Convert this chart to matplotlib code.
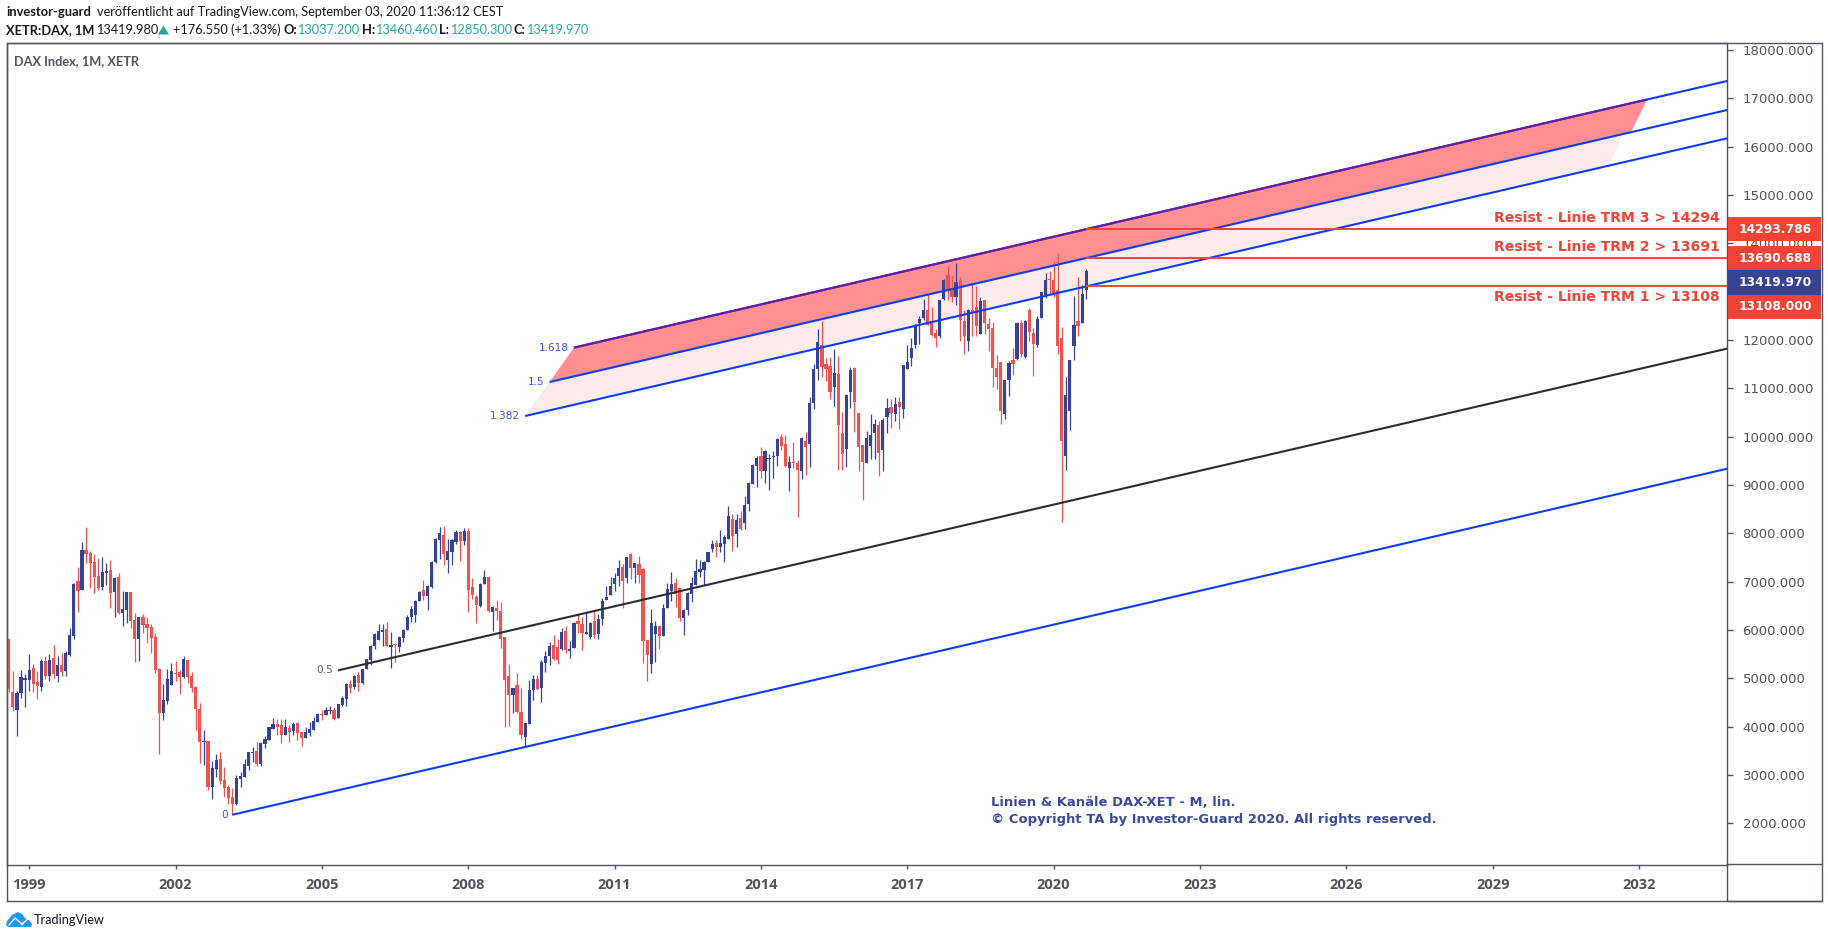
import matplotlib
matplotlib.use('Agg')
import matplotlib.pyplot as plt
from matplotlib.patches import Polygon, Rectangle, Circle

# Monthly DAX candles, Aug 1998 to Sep 2020
opens = [
    5814, 4717, 4345, 4696, 4965, 4965, 5214, 4924, 4821, 5359, 5048, 5421,
    5048, 5276, 5152, 5483, 5876, 7014, 6828, 7655, 7593, 7407, 7117, 6890,
    7179, 7241, 6786, 7097, 6352, 6414, 6786, 6207, 5814, 6269, 6124, 6062,
    5855, 5193, 4283, 4531, 4862, 5110, 5131, 5028, 5379, 5048, 4821, 4365,
    3675, 3703, 2751, 3124, 3330, 2896, 2751, 2544, 2399, 2917, 2958, 3186,
    3455, 3496, 3227, 3641, 3724, 3951, 4055, 4034, 3827, 3972, 3910, 4075,
    3890, 3765, 3869, 3931, 4096, 4262, 4241, 4324, 4345, 4179, 4448, 4572,
    4883, 4821, 5069, 4903, 5193, 5379, 5669, 5793, 5959, 6021, 5648, 5710,
    5648, 5834, 6000, 6269, 6310, 6600, 6828, 6703, 6890, 7407, 7862, 7966,
    7448, 7614, 7821, 8028, 7842, 8048, 6890, 6683, 6497, 6952, 7097, 6372,
    6455, 6393, 5855, 5048, 4655, 4862, 4304, 3786, 4055, 4759, 4986, 4800,
    5317, 5462, 5690, 5648, 5607, 5979, 5566, 5628, 6186, 6124, 5917, 5855,
    6186, 5916, 6227, 6620, 6724, 6951, 7117, 7303, 7075, 7572, 7282, 7365,
    7261, 5792, 5296, 5917, 6082, 5875, 6454, 6806, 6972, 6868, 6248, 6413,
    6744, 6930, 7199, 7241, 7406, 7675, 7799, 7716, 7779, 7882, 8296, 7986,
    8317, 8213, 8606, 9020, 9393, 9600, 9289, 9537, 9579, 9600, 9993, 9848,
    9351, 9475, 9455, 9289, 9910, 9848, 10696, 11400, 11896, 11503, 11462, 11027,
    11296, 10076, 9744, 10924, 11420, 10489, 9827, 9455, 9807, 10076, 10241, 9724,
    10407, 10614, 10469, 10717, 10572, 11400, 11627, 11896, 12351, 12455, 12620, 12393,
    12145, 12083, 12848, 13345, 13055, 12889, 13241, 12393, 11979, 12620, 12683, 12124,
    12827, 12331, 12248, 11420, 11545, 10469, 11172, 11586, 11607, 12352, 11648, 12620,
    12145, 11896, 12455, 12889, 13262, 13241, 13034, 12041, 9600, 10531, 11876, 12393,
    12352, 13037.2,
]
highs = [
    5814, 5152, 4745, 5172, 5090, 5503, 5296, 5152, 5400, 5462, 5503, 5690,
    5462, 5524, 5566, 6041, 6972, 7303, 7821, 8131, 7635, 7573, 7490, 7510,
    7386, 7448, 7097, 7179, 6807, 6786, 6786, 6352, 6269, 6331, 6269, 6124,
    5938, 5214, 4883, 5193, 5317, 5359, 5172, 5462, 5379, 5131, 4841, 4489,
    3930, 3703, 3289, 3434, 3475, 3165, 2793, 2730, 3000, 3061, 3330, 3475,
    3579, 3682, 3682, 3806, 4000, 4179, 4158, 4158, 4158, 4034, 4096, 4096,
    3890, 3993, 4096, 4200, 4283, 4345, 4407, 4428, 4407, 4469, 4635, 4903,
    4965, 5069, 5131, 5193, 5400, 5690, 5938, 6124, 6124, 6166, 5959, 5731,
    5876, 6021, 6310, 6497, 6621, 6807, 7035, 6931, 7428, 7904, 8131, 8152,
    7883, 7883, 8069, 8048, 8110, 8110, 7076, 6724, 6972, 7241, 7097, 6497,
    6621, 6579, 5855, 5296, 4800, 5110, 4800, 4076, 4965, 5069, 5069, 5379,
    5566, 5752, 5897, 5814, 6041, 6083, 5772, 6166, 6331, 6269, 6352, 6166,
    6393, 6331, 6661, 6910, 7096, 7179, 7448, 7365, 7510, 7593, 7386, 7530,
    7282, 5792, 6434, 6186, 6082, 6537, 6972, 7199, 7075, 6868, 6434, 6785,
    7096, 7468, 7448, 7427, 7613, 7861, 7861, 8068, 7965, 8565, 8399, 8399,
    8461, 8772, 9062, 9434, 9600, 9786, 9724, 9641, 9703, 9972, 10055, 10034,
    9600, 9889, 9517, 9993, 10096, 10820, 11503, 12227, 12393, 11627, 11648, 11814,
    11669, 10510, 10882, 11441, 11441, 10489, 9827, 10117, 10469, 10365, 10324, 10386,
    10800, 10779, 10820, 10820, 11482, 11896, 12041, 12331, 12496, 12848, 12951, 12683,
    12227, 12827, 13262, 13531, 13345, 13593, 13303, 12620, 12641, 13200, 13117, 12889,
    12827, 12455, 12372, 11689, 11545, 11172, 11565, 11834, 12372, 12414, 12414, 12662,
    12248, 12496, 12993, 13386, 13427, 13634, 13800, 12269, 11234, 11586, 12910, 13303,
    13138, 13460.46,
]
lows = [
    4724, 4331, 3807, 4600, 4407, 4738, 4717, 4572, 4738, 4986, 4945, 5007,
    4924, 5048, 5048, 5462, 5814, 6372, 6828, 7386, 6869, 6766, 6828, 6828,
    6931, 6455, 6269, 6331, 6083, 6145, 6041, 5338, 5359, 5938, 5731, 5524,
    5110, 3434, 4138, 4469, 4862, 4945, 4676, 5007, 4903, 4717, 3931, 3248,
    3206, 2689, 2503, 2958, 2813, 2544, 2399, 2179, 2379, 2751, 2958, 3103,
    3268, 3186, 3186, 3558, 3724, 3951, 3827, 3661, 3827, 3682, 3827, 3724,
    3600, 3765, 3807, 3931, 4096, 4138, 4241, 4262, 4138, 4179, 4428, 4428,
    4696, 4779, 4738, 4883, 5193, 5276, 5607, 5793, 5669, 5669, 5214, 5338,
    5545, 5752, 6000, 6165, 6165, 6600, 6621, 6414, 6869, 7386, 7469, 7345,
    7179, 7345, 7779, 7428, 7759, 6372, 6641, 6145, 6476, 6952, 6372, 5979,
    6207, 5628, 3993, 4014, 4283, 4283, 3745, 3586, 4055, 4552, 4759, 4510,
    5131, 5276, 5379, 5296, 5586, 5524, 5421, 5628, 5938, 5586, 5917, 5814,
    5834, 5813, 6103, 6620, 6724, 6806, 6910, 6455, 6972, 7055, 6972, 6972,
    5316, 4944, 5110, 5337, 5606, 5875, 6454, 6599, 6475, 6186, 5896, 6310,
    6579, 6930, 7096, 6930, 7406, 7613, 7510, 7613, 7406, 7882, 7634, 7717,
    8068, 8089, 8461, 9020, 8958, 9144, 9041, 8896, 9144, 9393, 9724, 9372,
    8875, 9351, 8337, 9124, 9206, 9372, 10572, 11172, 11234, 11152, 10779, 10634,
    9310, 9310, 9372, 10593, 10096, 9289, 8689, 9455, 9538, 9538, 9186, 9289,
    10076, 10179, 10324, 10158, 10386, 11400, 11462, 11834, 11917, 12414, 12310, 12083,
    11855, 12041, 12827, 12827, 12786, 12724, 11979, 11710, 11772, 12083, 12083, 12124,
    12124, 11772, 11027, 10986, 10262, 10365, 10841, 11276, 11586, 11648, 11627, 11979,
    11255, 11855, 12455, 12869, 12931, 12889, 11710, 8234, 9310, 10138, 11586, 12083,
    12352, 12850.3,
]
closes = [
    4779, 4407, 4703, 5028, 5007, 5172, 4883, 4841, 5359, 5048, 5379, 5090,
    5276, 5131, 5524, 5897, 6952, 6807, 7655, 7573, 7386, 7097, 6869, 7200,
    7221, 6766, 7076, 6352, 6434, 6786, 6186, 5814, 6269, 6103, 6041, 5834,
    5172, 4283, 4552, 4986, 5152, 5090, 5028, 5400, 5028, 4800, 4365, 3682,
    3696, 2751, 3144, 3310, 2875, 2730, 2524, 2399, 2937, 2979, 3227, 3475,
    3475, 3227, 3662, 3744, 3986, 4055, 3993, 3827, 3993, 3889, 4055, 3868,
    3765, 3890, 3951, 4117, 4262, 4241, 4345, 4345, 4159, 4469, 4593, 4883,
    4800, 5048, 4903, 5193, 5400, 5669, 5917, 5979, 6000, 5669, 5690, 5690,
    5855, 6000, 6269, 6434, 6600, 6786, 6703, 6910, 7407, 7883, 8007, 7573,
    7635, 7862, 8028, 7842, 8048, 6828, 6724, 6517, 6952, 7097, 6393, 6476,
    6393, 5814, 4965, 4655, 4800, 4304, 3827, 4076, 4759, 4986, 4779, 5338,
    5462, 5669, 5400, 5379, 5958, 5586, 5607, 6145, 6124, 5938, 5959, 6145,
    5897, 6227, 6599, 6682, 6910, 7075, 7282, 7013, 7510, 7282, 7386, 7137,
    5772, 5482, 6144, 6082, 5875, 6454, 6848, 6951, 6744, 6248, 6413, 6765,
    6972, 7220, 7261, 7406, 7613, 7779, 7716, 7799, 7923, 8358, 7944, 8275,
    8089, 8586, 9041, 9413, 9558, 9289, 9703, 9558, 9600, 9951, 9806, 9392,
    9475, 9455, 9310, 9972, 9786, 10696, 11400, 11958, 11441, 11400, 10924, 11317,
    10241, 9641, 10862, 11379, 10717, 9786, 9475, 9972, 10034, 10262, 9662, 10345,
    10593, 10489, 10676, 10614, 11482, 11545, 11834, 12310, 12434, 12620, 12310, 12103,
    12041, 12827, 13241, 13014, 12889, 13200, 12414, 12083, 12620, 12579, 12290, 12807,
    12352, 12227, 11420, 11234, 10531, 11172, 11524, 11503, 12352, 11710, 12393, 12165,
    11917, 12434, 12993, 13241, 13241, 12951, 11876, 9910, 10862, 11586, 12310, 12290,
    12951, 13419.97,
]

# Channel and fibonacci levels: (month index, price) at both ends of each segment
level_names = ['0', '0.5', '1.382', '1.5', '1.618']
level_colors = ['#0d3bf5', '#2a2c33', '#0d3bf5', '#0d3bf5', '#0d3bf5']
level_start_month = [55, 81, 127, 133, 139]
level_start_price = [2178, 5165, 10427, 11130, 11841]
level_end_price = [9337, 11822, 16173, 16759, 17359]

resist_prices = [14293.786, 13690.688, 13108.0]
resist_labels = ['Resist - Linie TRM 3 > 14294', 'Resist - Linie TRM 2 > 13691', 'Resist - Linie TRM 1 > 13108']
resist_start_month = 265
last_price = 13419.97

price_ticks = list(range(2000, 19000, 1000))
year_ticks = list(range(1999, 2033, 3))

FIG_W, FIG_H = 1828, 938
LEFT, TOP, RIGHT, BOTTOM = 6.5, 43.5, 1727.3, 864.5
OUTER_R, OUTER_B = 1821.5, 901

RED = '#ef5350'
NAVY = '#364393'
FRAME = '#50535e'
SCALE_TXT = '#50535e'
LABEL_RED = '#f44336'
BLUE_TXT = '#3355ee'

def month_of(year):
    return (year - 1998) * 12 - 7

fig = plt.figure(figsize=(FIG_W / 100, FIG_H / 100), dpi=100, facecolor='white')

ax = fig.add_axes([LEFT / FIG_W, 1 - BOTTOM / FIG_H, (RIGHT - LEFT) / FIG_W, (BOTTOM - TOP) / FIG_H])
ax.set_xlim(-0.57, 422.7)
ax.set_ylim(1148, 18134)

# shaded fibonacci bands, under the candles
def level_at(idx, month):
    slope = (level_end_price[idx] - level_start_price[idx]) / (422.7 - level_start_month[idx])
    return level_start_price[idx] + slope * (month - level_start_month[idx])

ax.add_patch(Polygon([(127, level_at(2, 127)), (133, level_at(3, 133)), (397, level_at(3, 397)), (393.7, level_at(2, 393.7))],
                     closed=True, facecolor='#ffebec', edgecolor='none', zorder=1))
ax.add_patch(Polygon([(133, level_at(3, 133)), (139, level_at(4, 139)), (403, level_at(4, 403)), (399, level_at(3, 399))],
                     closed=True, facecolor='#ff8f90', edgecolor='none', zorder=1))

# candles
months = list(range(len(opens)))
for m, o, h, l, c in zip(months, opens, highs, lows, closes):
    col = NAVY if c >= o else RED
    ax.vlines(m, l, h, color=col, linewidth=0.9, zorder=2)
    ax.bar(m, abs(c - o), bottom=min(o, c), width=0.78, color=col, linewidth=0, zorder=3)

# channel lines on top of the candles
for i in range(5):
    ax.plot([level_start_month[i], 422.7], [level_start_price[i], level_end_price[i]],
            color=level_colors[i], linewidth=1.5, zorder=4, solid_capstyle='butt')
ax.plot([139, 403], [level_at(4, 139), level_at(4, 403)], color='#6a1b9a', linewidth=1.5, zorder=5, solid_capstyle='butt')

for p in resist_prices:
    ax.plot([resist_start_month, 422.7], [p, p], color=LABEL_RED, linewidth=1.4, zorder=5, solid_capstyle='butt')

# axes and scales
for s in ax.spines.values():
    s.set_color(FRAME)
    s.set_linewidth(1.0)
ax.set_xticks([month_of(y) for y in year_ticks])
ax.set_xticklabels(year_ticks, fontfamily='Open Sans', fontweight='bold', fontsize=10.5, color=SCALE_TXT)
ax.set_yticks(price_ticks)
ax.set_yticklabels(['%.3f' % t for t in price_ticks], fontsize=9.5, color=SCALE_TXT)
ax.yaxis.tick_right()
ax.tick_params(axis='y', length=4, width=1, color=FRAME, pad=7)
ax.tick_params(axis='x', length=3, width=1, color=FRAME, pad=7)

# overlay in pixel units for the header, price tags and logo
ov = fig.add_axes([0, 0, 1, 1], facecolor='none')
ov.set_xlim(0, FIG_W)
ov.set_ylim(FIG_H, 0)
ov.axis('off')

ov.plot([RIGHT, RIGHT, OUTER_R, OUTER_R, LEFT, LEFT], [BOTTOM, OUTER_B, OUTER_B, TOP, TOP, OUTER_B],
        color=FRAME, linewidth=1.0, zorder=1)
ov.plot([LEFT, OUTER_R], [OUTER_B, OUTER_B], color=FRAME, linewidth=1.0, zorder=1)
ov.plot([RIGHT, OUTER_R], [BOTTOM, BOTTOM], color=FRAME, linewidth=1.0, zorder=1)

def price_y(v):
    return FIG_H - ax.transData.transform((0, v))[1]

def month_x(m):
    return ax.transData.transform((m, 0))[0]

# price tags stack downwards so they never overlap
tags = [(resist_prices[0], LABEL_RED), (resist_prices[1], LABEL_RED), (last_price, NAVY), (resist_prices[2], LABEL_RED)]
tag_h = 24.2
prev_bottom = 0
for val, col in tags:
    cy = max(price_y(val), prev_bottom + tag_h / 2)
    ov.add_patch(Rectangle((RIGHT + 0.5, cy - tag_h / 2), OUTER_R - RIGHT - 1, tag_h, facecolor=col, edgecolor='none', zorder=3))
    ov.text(1739, cy, '%.3f' % val, color='white', fontsize=8.8, fontweight='bold', va='center', ha='left', zorder=4)
    prev_bottom = cy + tag_h / 2

# resistance captions, above the line for the upper two and below for the lower one
for p, txt, off in zip(resist_prices, resist_labels, [-11.5, -11.5, 10.5]):
    ov.text(1719.5, price_y(p) + off, txt, color=LABEL_RED, fontsize=10.1, fontweight='bold', ha='right', va='center')

# level names at the left end of each line
name_gap = [4.5, 5, 5.5, 5.5, 5.5]
name_colors = [BLUE_TXT, '#5d606b', BLUE_TXT, BLUE_TXT, BLUE_TXT]
for i in range(5):
    x = month_x(level_start_month[i]) - name_gap[i]
    ov.text(x, price_y(level_start_price[i]), level_names[i], color=name_colors[i], fontsize=7.6, ha='right', va='center')

# header lines
head = 'Lato'
ink = '#131722'
teal = '#2aa79b'
reg_size = 9.2
bold_size = 9.3
ov.text(6, 12.3, 'investor-guard', fontfamily=head, fontweight='bold', fontsize=bold_size, color=ink, va='center')
ov.text(96.8, 12.3, 'veröffentlicht auf TradingView.com, September 03, 2020 11:36:12 CEST', fontfamily=head, fontsize=reg_size, color=ink, va='center')
ov.text(6, 30, 'XETR:DAX, 1M', fontfamily=head, fontweight='bold', fontsize=bold_size, color=ink, va='center')
ov.text(96.4, 30, '13419.980', fontfamily=head, fontsize=reg_size, color=ink, va='center')
ov.add_patch(Polygon([(158, 34.5), (169, 34.5), (163.5, 25.5)], closed=True, facecolor=teal, edgecolor='none'))
ov.text(172.8, 30, '+176.550 (+1.33%)', fontfamily=head, fontsize=reg_size, color=ink, va='center')
for x_lab, lab, x_val, val in [(283.4, 'O:', 297.2, '13037.200'), (361.7, 'H:', 375.5, '13460.460'),
                               (439.5, 'L:', 450.2, '12850.300'), (513.8, 'C:', 526.5, '13419.970')]:
    ov.text(x_lab, 30, lab, fontfamily=head, fontweight='bold', fontsize=bold_size, color=ink, va='center')
    ov.text(x_val, 30, val, fontfamily=head, fontsize=reg_size, color=teal, va='center')

ov.text(14, 60.8, 'DAX Index, 1M, XETR', fontfamily=head, fontweight='bold', fontsize=9.2, color='#50535e', va='center')

# copyright note
note = '#3a4a9a'
ov.text(991, 802.7, 'Linien & Kanäle DAX-XET - M, lin.', color=note, fontsize=9.45, fontweight='bold', va='center')
ov.text(991, 819, '© Copyright TA by Investor-Guard 2020. All rights reserved.', color=note, fontsize=9.45, fontweight='bold', va='center')

# TradingView logo
ov.add_patch(Polygon([(6, 925), (7, 921), (12, 915), (18, 912), (22, 914), (25, 918), (29, 920), (32, 924), (31, 927), (8, 927)],
                     closed=True, facecolor='#2196f3', edgecolor='none'))
ov.plot([9, 15, 22, 28], [925, 918, 924, 919], color='white', linewidth=1.0)
ov.add_patch(Circle((22, 924), 1.3, facecolor='white', edgecolor='none'))
ov.text(34, 919.5, 'TradingView', fontfamily=head, fontsize=9.2, color='#131722', va='center')

fig.savefig('out.png', dpi=100, facecolor='white')
